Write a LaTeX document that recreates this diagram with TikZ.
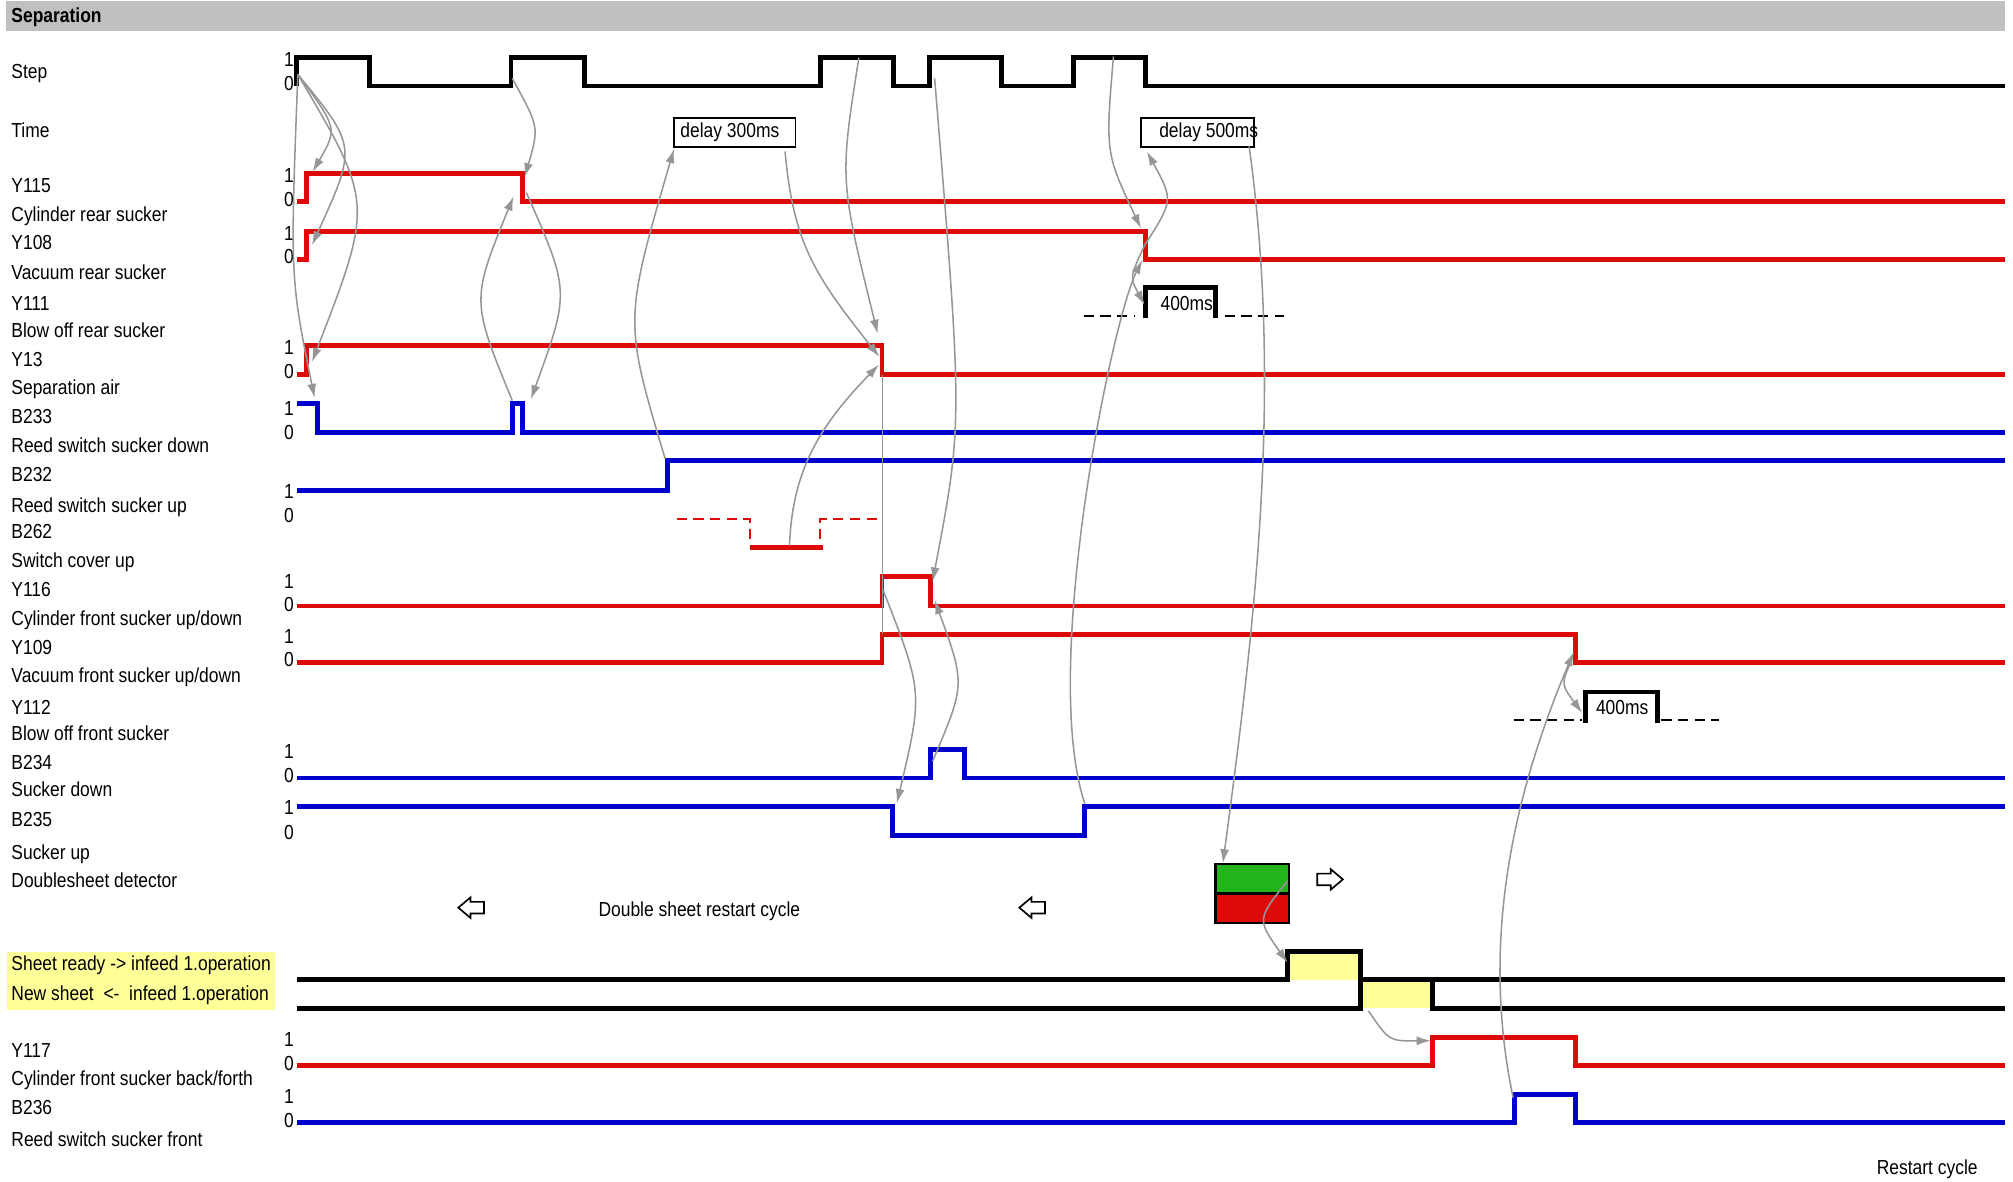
\documentclass[tikz,border=0pt]{standalone}
\usepackage{fontspec}
\setmainfont{Liberation Sans}[FakeStretch=0.86]
\definecolor{sigred}{RGB}{221, 10, 10}
\definecolor{sigblue}{RGB}{0, 0, 205}
\definecolor{linkgray}{RGB}{150, 150, 150}
\definecolor{headgray}{RGB}{192, 192, 192}
\definecolor{sheetyellow}{RGB}{255, 255, 153}
\definecolor{okgreen}{RGB}{34, 180, 26}
\usetikzlibrary{arrows.meta}
\newcommand{\labfont}{\fontsize{15.8}{18}\selectfont}
\tikzset{
  sig/.style={line width=3.8pt},
  lbl/.style={anchor=base west, inner sep=0pt, font=\labfont},
  lvl/.style={anchor=base east, inner sep=0pt, font=\labfont},
  link/.style={draw=linkgray, line width=1.2pt, -{Latex[length=11pt,width=7pt]}},
  idle/.style={dash pattern=on 8pt off 5pt, line width=1.6pt},
  delaybox/.style={draw, line width=1.4pt, minimum height=22.7pt, inner sep=0pt, anchor=north west},
  hollow/.style={draw, line width=1.3pt, fill=white}
}

\begin{document}
\begin{tikzpicture}[x=1pt, y=-1pt]
  \useasboundingbox (0,0) rectangle (1568,920);
  % header
  \fill[headgray] (5,0.5) rectangle (1562,24);
  \node[lbl, font=\labfont\bfseries] (title) at (8.7,17.7) {Separation};

  % signal names
  \node[lbl] (nStep) at (8.7,61) {Step};
  \node[lbl] (nTime) at (8.7,107.2) {Time};
  \node[lbl] (nY115) at (8.7,150.1) {Y115};
  \node[lbl] (tY115) at (8.7,172.7) {Cylinder rear sucker};
  \node[lbl] (nY108) at (8.7,194.7) {Y108};
  \node[lbl] (tY108) at (8.7,217.6) {Vacuum rear sucker};
  \node[lbl] (nY111) at (8.7,241.5) {Y111};
  \node[lbl] (tY111) at (8.7,263) {Blow off rear sucker};
  \node[lbl] (nY13) at (8.7,285.1) {Y13};
  \node[lbl] (tY13) at (8.7,307.2) {Separation air};
  \node[lbl] (nB233) at (8.7,329.7) {B233};
  \node[lbl] (tB233) at (8.7,352.6) {Reed switch sucker down};
  \node[lbl] (nB232) at (8.7,375.2) {B232};
  \node[lbl] (tB232) at (8.7,399.3) {Reed switch sucker up};
  \node[lbl] (nB262) at (8.7,419.3) {B262};
  \node[lbl] (tB262) at (8.7,441.9) {Switch cover up};
  \node[lbl] (nY116) at (8.7,464.8) {Y116};
  \node[lbl] (tY116) at (8.7,487.6) {Cylinder front sucker up/down};
  \node[lbl] (nY109) at (8.7,509.7) {Y109};
  \node[lbl] (tY109) at (8.7,531.7) {Vacuum front sucker up/down};
  \node[lbl] (nY112) at (8.7,556.4) {Y112};
  \node[lbl] (tY112) at (8.7,576.9) {Blow off front sucker};
  \node[lbl] (nB234) at (8.7,599.3) {B234};
  \node[lbl] (tB234) at (8.7,620.6) {Sucker down};
  \node[lbl] (nB235) at (8.7,643.9) {B235};
  \node[lbl] (tB235) at (8.7,669.4) {Sucker up};
  \node[lbl] (tDS) at (8.7,691.2) {Doublesheet detector};
  \fill[sheetyellow] (5.2,741.3) rectangle (214.5,786.7);
  \node[lbl] (tReady) at (8.7,756.1) {Sheet ready -> infeed 1.operation};
  \node[lbl] (tNew) at (8.7,779) {New sheet\ \ <-\ \ infeed 1.operation};
  \node[lbl] (nY117) at (8.7,823.9) {Y117};
  \node[lbl] (tY117) at (8.7,845.9) {Cylinder front sucker back/forth};
  \node[lbl] (nB236) at (8.7,868.5) {B236};
  \node[lbl] (tB236) at (8.7,893.2) {Reed switch sucker front};

  % levels
  \foreach \y/\v [count=\i] in {51.9/1, 70.6/0, 142.3/1, 161/0, 187/1, 205.1/0,
      276.5/1, 294.7/0, 324/1, 342.2/0, 388.2/1, 407.1/0, 458.3/1, 476.4/0,
      501.1/1, 519.3/0, 590.7/1, 609.7/0, 634.8/1, 653.8/0, 815.3/1, 834/0,
      859.4/1, 878.1/0}
    \node[lvl] (lvl\i) at (229,\y) {\v};

  % signals
  \draw[sig] (231,67) -- (231,45) -- (288,45) -- (288,67) -- (398,67) -- (398,45)
    -- (455,45) -- (455,67) -- (639,67) -- (639,45) -- (696,45) -- (696,67)
    -- (724,67) -- (724,45) -- (780,45) -- (780,67) -- (836,67) -- (836,45)
    -- (892,45) -- (892,67) -- (1562,67);
  \draw[sig, sigred] (231,157) -- (239,157) -- (239,135) -- (407,135) -- (407,157) -- (1562,157);
  \draw[sig, sigred] (231,202) -- (239,202) -- (239,180) -- (892,180) -- (892,202) -- (1562,202);
  \draw[idle] (844,246) -- (884,246);
  \draw[idle] (954,246) -- (1000,246);
  \draw[sig] (892,248) -- (892,224) -- (947,224) -- (947,248);
  \draw[sig, sigred] (231,292) -- (239,292) -- (239,269) -- (687,269) -- (687,292) -- (1562,292);
  \draw[sig, sigblue] (231,314) -- (247,314) -- (247,337) -- (399,337) -- (399,314) -- (407,314) -- (407,337) -- (1562,337);
  \draw[sig, sigblue] (231,382) -- (520,382) -- (520,359) -- (1562,359);
  \draw[idle, sigred] (527,404) -- (584,404) -- (584,420);
  \draw[idle, sigred] (639,420) -- (639,404) -- (684,404);
  \draw[sig, sigred] (584,426.5) -- (641,426.5);
  \draw[sig, sigred] (231,472) -- (687,472) -- (687,449) -- (725,449) -- (725,472) -- (1562,472);
  \draw[sig, sigred] (231,516) -- (687,516) -- (687,494.5) -- (1227,494.5) -- (1227,516) -- (1562,516);
  \draw[idle] (1179,561) -- (1232,561);
  \draw[idle] (1294,561) -- (1339,561);
  \draw[sig] (1235,563) -- (1235,539) -- (1291,539) -- (1291,563);
  \draw[sig, sigblue] (231,606) -- (724.5,606) -- (724.5,583.5) -- (751,583.5) -- (751,606) -- (1562,606);
  \draw[sig, sigblue] (231,628) -- (695.5,628) -- (695.5,650.5) -- (844.5,650.5) -- (844.5,628) -- (1562,628);
  \fill[sheetyellow] (1003,741) rectangle (1060,763);
  \fill[sheetyellow] (1060,763) rectangle (1116,785.5);
  \draw[sig] (231,763) -- (1003,763) -- (1003,741) -- (1060,741) -- (1060,763) -- (1562,763);
  \draw[sig] (231,785.5) -- (1060,785.5) -- (1060,763) -- (1116,763) -- (1116,785.5) -- (1562,785.5);
  \draw[sig, sigred] (231,830) -- (1116,830) -- (1116,808) -- (1227,808) -- (1227,830) -- (1562,830);
  \draw[sig, sigblue] (231,874.5) -- (1180,874.5) -- (1180,852.5) -- (1227,852.5) -- (1227,874.5) -- (1562,874.5);

  % timers and detector
  \node[delaybox, minimum width=95pt] (d300) at (524,91) {};
  \node[lbl] (d300txt) at (529.8,107) {delay 300ms};
  \node[delaybox, minimum width=88pt] (d500) at (888,91) {};
  \node[lbl] (d500txt) at (902.8,107) {delay 500ms};
  \node[lbl] (t400a) at (903.8,241.5) {400ms};
  \node[lbl] (t400b) at (1243,556.2) {400ms};
  \draw[line width=2pt, fill=okgreen] (947,673) rectangle (1004,696);
  \draw[line width=2pt, fill=sigred] (947,696) rectangle (1004,719);
  \foreach \cx/\cy/\r in {367/707/0, 804/707/0, 1036/685/180}
    \draw[hollow, shift={(\cx,\cy)}, rotate=\r] (-10,0) -- (-0.5,-8) -- (-0.5,-4.5)
      -- (10,-4.5) -- (10,4.5) -- (-0.5,4.5) -- (-0.5,8) -- cycle;
  \node[lbl] (tRestartDS) at (466,713.5) {Double sheet restart cycle};
  \node[lbl] (tRestart) at (1461.7,914.5) {Restart cycle};

  % event points
  \coordinate (stepA) at (232,58);
  \coordinate (y115on) at (243.5,134);
  \coordinate (y108on) at (243,191);
  \coordinate (y13on) at (243,282);
  \coordinate (b233off) at (245,310);
  \coordinate (stepB) at (399,61);
  \coordinate (y115off) at (408.6,138);
  \coordinate (b233on) at (399,312);
  \coordinate (y115low) at (400,153);
  \coordinate (y115drop) at (410,150);
  \coordinate (b233off2) at (413.5,311);
  \coordinate (b232on) at (518,357);
  \coordinate (d300in) at (525,116);
  \coordinate (d300out) at (611.5,118);
  \coordinate (y13offA) at (685,278);
  \coordinate (stepC) at (669,45);
  \coordinate (y13offB) at (683.7,260);
  \coordinate (b262low) at (615,425);
  \coordinate (y13offC) at (684.7,284);
  \coordinate (y13drop) at (687.5,292);
  \coordinate (y109on) at (687.5,494);
  \coordinate (stepD) at (728,61);
  \coordinate (y116off) at (726.4,453);
  \coordinate (y116on) at (688,460);
  \coordinate (b235off) at (698.6,625.6);
  \coordinate (b234on) at (726.4,593);
  \coordinate (y116low) at (728,467.4);
  \coordinate (b235on) at (845,626);
  \coordinate (y108offA) at (889.8,202.5);
  \coordinate (stepE) at (867.3,44);
  \coordinate (y108offB) at (888.8,178);
  \coordinate (y108offC) at (891.6,191);
  \coordinate (d500in) at (893.4,118);
  \coordinate (y111on) at (891.6,237.6);
  \coordinate (d500out) at (973,114);
  \coordinate (dsbox) at (952.5,672.5);
  \coordinate (dsgreen) at (1003,686);
  \coordinate (readyon) at (1003,750);
  \coordinate (newon) at (1066,787.5);
  \coordinate (y117on) at (1114.5,810.6);
  \coordinate (b236on) at (1178.6,855);
  \coordinate (y109off) at (1225.9,507.8);
  \coordinate (y109drop) at (1223.8,515);
  \coordinate (y112on) at (1232.4,555.4);

  % dependencies
  \draw[link] (stepA) .. controls (263,100) .. (y115on);
  \draw[link] (stepA) .. controls (278,114) .. (y108on);
  \draw[link] (stepA) .. controls (291,158) .. (y13on);
  \draw[link] (stepA) .. controls (226,216) .. (b233off);
  \draw[link] (stepB) .. controls (420,99) .. (y115off);
  \draw[link] (b233on) .. controls (367,234) .. (y115low);
  \draw[link] (y115drop) .. controls (444,227) .. (b233off2);
  \draw[link] (b232on) .. controls (486,250) .. (d300in);
  \draw[link] (d300out) .. controls (618,190) and (635,215) .. (y13offA);
  \draw[link] (stepC) .. controls (654,140) .. (y13offB);
  \draw[link] (b262low) .. controls (617,365) and (640,330) .. (y13offC);
  \draw[linkgray, line width=1.2pt] (y13drop) -- (y109on);
  \draw[link] (stepD) .. controls (750,329) .. (y116off);
  \draw[link] (y116on) .. controls (719,539) .. (b235off);
  \draw[link] (b234on) .. controls (752,533) .. (y116low);
  \draw[link] (b235on) .. controls (810,521) and (866,250) .. (y108offA);
  \draw[link] (stepE) .. controls (861,119) .. (y108offB);
  \draw[link] (y108offC) .. controls (914,156) .. (d500in);
  \draw[link] (y108offC) .. controls (880,216) .. (y111on);
  \draw[link] (d500out) .. controls (999,302) and (978,483) .. (dsbox);
  \draw[link] (dsgreen) .. controls (979,716) .. (readyon);
  \draw[link] (newon) .. controls (1082,811) .. (y117on);
  \draw[link] (b236on) .. controls (1154,738) and (1176,625) .. (y109off);
  \draw[link] (y109drop) .. controls (1216,533) .. (y112on);
\end{tikzpicture}
\end{document}
